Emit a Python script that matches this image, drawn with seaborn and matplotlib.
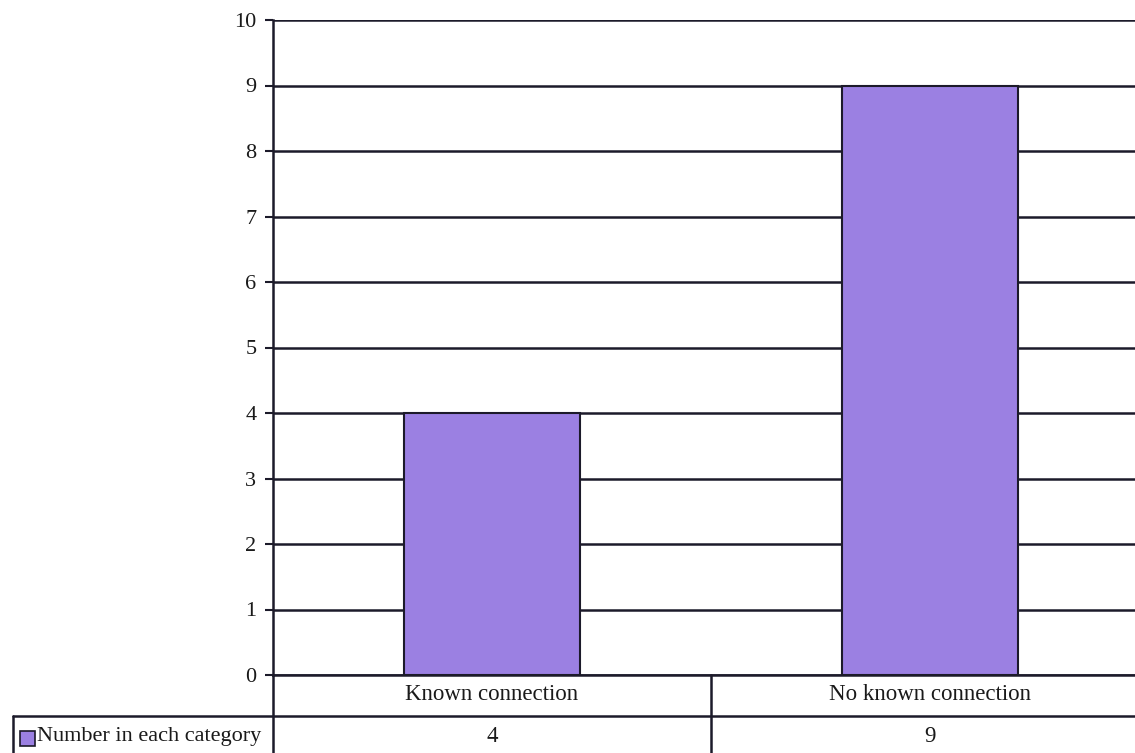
import matplotlib
matplotlib.use("Agg")
import matplotlib.pyplot as plt
import matplotlib.transforms as mtransforms
from matplotlib.lines import Line2D
from matplotlib.patches import Rectangle
import pandas as pd
import seaborn as sns

categories = ["Known connection", "No known connection"]
counts = [4, 9]
series_name = "Number in each category"
y_ticks = list(range(0, 11))

bar_color = "#9b80e2"
line_color = "#1c1a2a"
text_color = "#1a1a1a"

sns.set_theme(style="white")
plt.rcParams["font.family"] = ["Liberation Serif", "DejaVu Serif"]

W, H = 1135, 753
fig = plt.figure(figsize=(W / 100, H / 100), dpi=100)
fig.patch.set_facecolor("white")

# plot area runs a little past the right edge of the picture, like the scan
ax = fig.add_axes([273 / W, 1 - 675 / H, (1149 - 273) / W, (675 - 20) / H])

df = pd.DataFrame({"category": categories, "count": counts})
sns.barplot(data=df, x="category", y="count", color=bar_color, saturation=1,
            width=0.4, edgecolor=line_color, linewidth=1.5, ax=ax, zorder=3)

ax.set_ylim(0, 10)
ax.set_xlim(-0.5, 1.5)
ax.set_yticks(y_ticks)
ax.set_yticklabels([str(t) for t in y_ticks], fontsize=16, color=text_color)
ax.set_xticks([])
ax.set_xlabel("")
ax.set_ylabel("")
ax.yaxis.grid(True, color=line_color, linewidth=1.8)
ax.set_axisbelow(True)
ax.tick_params(axis="y", direction="out", length=6, width=1.5, color=line_color, pad=6, left=True)
for side in ["top", "right"]:
    ax.spines[side].set_visible(False)
for side in ["left", "bottom"]:
    ax.spines[side].set_color(line_color)
    ax.spines[side].set_linewidth(1.8)

# data table under the chart
tr = mtransforms.blended_transform_factory(ax.transData, fig.transFigure)

def fy(py):
    return 1 - py / H

def fx(px):
    return px / W

fig.add_artist(Line2D([fx(273), fx(273)], [fy(675), fy(753)], color=line_color, lw=1.8))
fig.add_artist(Line2D([fx(13), fx(13)], [fy(716), fy(753)], color=line_color, lw=1.8))
fig.add_artist(Line2D([fx(13), 1], [fy(716), fy(716)], color=line_color, lw=1.8))
ax.add_artist(Line2D([0.5, 0.5], [fy(675), fy(753)], color=line_color, lw=1.8,
                     transform=tr, clip_on=False))

for i, (cat, val) in enumerate(zip(categories, counts)):
    ax.text(i, fy(694), cat, transform=tr, ha="center", va="center",
            fontsize=16.5, color=text_color, clip_on=False)
    ax.text(i, fy(737), str(val), transform=tr, ha="center", va="center",
            fontsize=16.5, color=text_color, clip_on=False)

fig.add_artist(Rectangle((fx(20), fy(746)), 15 / W, 15 / H, facecolor=bar_color,
                         edgecolor=line_color, lw=1.2))
fig.text(fx(37), fy(737), series_name, ha="left", va="center", fontsize=16, color=text_color)

fig.savefig("out.png", dpi=100)
